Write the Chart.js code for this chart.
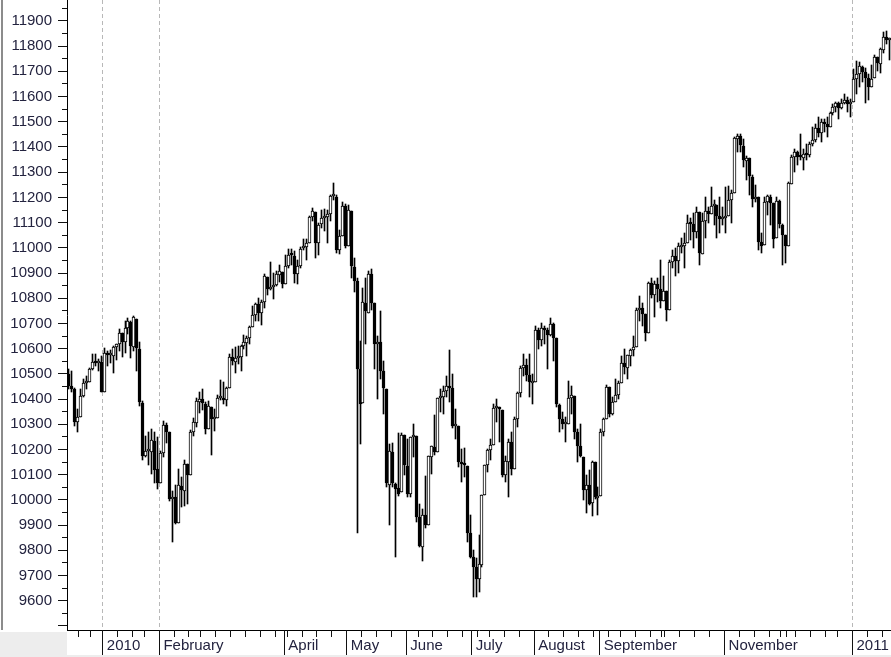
<!DOCTYPE html>
<html>
<head>
<meta charset="utf-8">
<script src="https://cdn.jsdelivr.net/npm/chart.js@4/dist/chart.umd.min.js"></script>
<style>
  html, body { margin: 0; padding: 0; background: #fff; }
  #wrap { width: 891px; height: 657px; position: relative; }
</style>
</head>
<body>
<div id="wrap"><canvas id="myChart"></canvas></div>
<script>
// Trading days shown, month by month (Dec 2009 .. Jan 2011)
var months = ['2009-12', '2010-01', '2010-02', '2010-03', '2010-04', '2010-05', '2010-06',
  '2010-07', '2010-08', '2010-09', '2010-10', '2010-11', '2010-12', '2011-01'];
var monthDays = [
  [15,16,17,18,21,22,23,24,28,29,30,31],
  [4,5,6,7,8,11,12,13,14,15,19,20,21,22,25,26,27,28,29],
  [1,2,3,4,5,8,9,10,11,12,16,17,18,19,22,23,24,25,26],
  [1,2,3,4,5,8,9,10,11,12,15,16,17,18,19,22,23,24,25,26,29,30,31],
  [1,5,6,7,8,9,12,13,14,15,16,19,20,21,22,23,26,27,28,29,30],
  [3,4,5,6,7,10,11,12,13,14,17,18,19,20,21,24,25,26,27,28],
  [1,2,3,4,7,8,9,10,11,14,15,16,17,18,21,22,23,24,25,28,29,30],
  [1,2,6,7,8,9,12,13,14,15,16,19,20,21,22,23,26,27,28,29,30],
  [2,3,4,5,6,9,10,11,12,13,16,17,18,19,20,23,24,25,26,27,30,31],
  [1,2,3,7,8,9,10,13,14,15,16,17,20,21,22,23,24,27,28,29,30],
  [1,4,5,6,7,8,11,12,13,14,15,18,19,20,21,22,25,26,27,28,29],
  [1,2,3,4,5,8,9,10,11,12,15,16,17,18,19,22,23,24,26,29,30],
  [1,2,3,6,7,8,9,10,13,14,15,16,17,20,21,22,23,27,28,29,30,31],
  [3,4,5,6,7,10,11,12,13,14,18,19,20]
];
// month names written under the axis ('' = no label)
var monthLabels = ['', '2010', 'February', '', 'April', 'May', 'June', 'July', 'August',
  'September', '', 'November', '', '2011'];
// months that get a dashed vertical line
var dashedMonths = ['2010-01', '2010-02', '2011-01'];
var yTickLabels = [9600, 9700, 9800, 9900, 10000, 10100, 10200, 10300, 10400, 10500, 10600,
  10700, 10800, 10900, 11000, 11100, 11200, 11300, 11400, 11500, 11600, 11700, 11800, 11900];

var opens = [
  10501,10452,10441,10309,10328,10414,10464,10467,10520,10547,10545,10548,
  10430,10584,10573,10571,10606,10620,10663,10628,10680,10706,10608,10719,10600,10385,10175,10194,10190,10233,10122,
  10068,10186,10296,10270,10002,10012,9910,10056,10036,10142,10100,10270,10306,10390,10401,10381,10282,10369,10321,
  10326,10404,10406,10397,10445,10567,10548,10564,10565,10612,10624,10642,10686,10732,10779,10740,10786,10885,10836,10843,10851,10894,10906,
  10857,10927,10972,10969,10897,10928,10998,11004,11018,11123,11143,11018,11093,11117,11123,11133,11204,11203,10990,11046,11166,
  11009,11148,10923,10868,10519,10386,10780,10742,10896,10780,10620,10625,10510,10440,10060,10191,10062,10046,10030,10258,
  10136,10025,10249,10255,9932,9813,9940,9900,10170,10211,10192,10403,10409,10434,10450,10442,10293,10295,10152,10144,10136,9870,
  9773,9732,9686,9743,10019,10138,10198,10218,10363,10366,10357,10097,10150,10230,10122,10321,10424,10525,10536,10497,10465,
  10468,10674,10636,10679,10673,10653,10698,10642,10377,10319,10302,10303,10406,10414,10270,10214,10170,10040,10060,9987,10150,10009,
  10016,10270,10321,10446,10340,10388,10415,10464,10544,10525,10572,10595,10608,10753,10760,10738,10664,10859,10811,10857,10836,
  10789,10828,10752,10944,10967,10947,11005,11009,11021,11096,11095,11062,11141,10977,11107,11146,11133,11164,11168,11126,11113,
  11120,11126,11188,11216,11433,11444,11405,11346,11357,11282,11192,11200,11022,11010,11181,11203,11178,11037,11186,11092,11051,
  11007,11255,11361,11381,11362,11358,11372,11370,11411,11428,11475,11457,11499,11492,11479,11533,11559,11573,11555,11575,11585,11569,
  11577,11670,11688,11717,11697,11673,11638,11673,11755,11731,11784,11836,11823
];
var highs = [
  10520,10510,10445,10360,10440,10480,10490,10525,10580,10580,10560,10570,
  10604,10590,10595,10612,10619,10676,10663,10709,10723,10710,10729,10719,10628,10391,10255,10270,10281,10268,10250,
  10194,10314,10305,10270,10037,10060,10124,10090,10159,10142,10276,10325,10405,10430,10440,10390,10394,10370,10360,
  10417,10475,10466,10446,10580,10600,10605,10612,10615,10655,10650,10690,10768,10780,10799,10794,10895,10885,10945,10900,10910,10930,10906,
  10971,10995,10996,10988,10953,11005,11034,11036,11128,11158,11143,11100,11150,11155,11150,11210,11258,11210,11070,11182,11175,
  11170,11148,10960,10880,10630,10840,10880,10910,10915,10780,10650,10750,10550,10440,10220,10225,10068,10265,10265,10258,
  10240,10250,10300,10255,9983,9964,10094,10173,10215,10337,10405,10440,10450,10490,10594,10500,10360,10295,10200,10205,10136,9940,
  9800,9770,9860,10020,10140,10200,10240,10380,10400,10370,10357,10175,10240,10270,10330,10430,10530,10580,10560,10580,10500,
  10690,10680,10700,10690,10680,10720,10700,10642,10380,10350,10330,10470,10450,10414,10280,10300,10170,10100,10120,10155,10150,10050,
  10280,10325,10455,10446,10410,10480,10470,10570,10600,10575,10600,10650,10760,10810,10780,10738,10865,10880,10870,10880,10950,
  10890,10830,10950,10990,11000,11020,11040,11060,11130,11120,11140,11160,11141,11140,11200,11160,11240,11190,11168,11200,11160,
  11240,11245,11230,11440,11452,11450,11430,11365,11357,11290,11250,11200,11060,11200,11210,11210,11178,11200,11190,11095,11051,
  11260,11370,11390,11385,11450,11390,11410,11420,11480,11490,11520,11510,11510,11520,11540,11570,11580,11580,11590,11610,11600,11590,
  11711,11742,11736,11723,11712,11689,11727,11764,11756,11794,11856,11861,11833
];
var lows = [
  10440,10430,10295,10270,10328,10410,10440,10467,10515,10530,10510,10428,
  10430,10530,10545,10505,10554,10591,10568,10584,10658,10561,10591,10511,10373,10157,10172,10140,10104,10068,10044,
  10068,10172,10227,9997,9835,9903,9910,9973,9975,9985,10100,10253,10290,10344,10356,10263,10281,10180,10272,
  10326,10396,10380,10373,10445,10536,10505,10540,10510,10600,10572,10620,10686,10710,10709,10695,10761,10812,10833,10795,10850,10866,10841,
  10857,10918,10930,10862,10855,10920,10990,10950,11018,11108,10960,10970,11080,11065,11020,11108,11190,10981,10975,11046,11000,
  11009,10880,10825,9870,10220,10386,10620,10742,10755,10520,10400,10480,10340,10050,9900,10050,9774,10015,10030,10100,
  10010,10012,10172,9914,9815,9757,9890,9900,10102,10180,10192,10350,10340,10410,10390,10285,10240,10130,10070,10090,9835,9770,
  9615,9614,9635,9735,10019,10110,10160,10218,10310,10230,10090,10070,10010,10100,10122,10290,10410,10490,10470,10410,10380,
  10468,10600,10610,10620,10520,10650,10550,10370,10270,10280,10230,10303,10340,10240,10150,10170,10000,9950,9980,9936,10005,9941,
  10016,10255,10321,10330,10335,10388,10400,10464,10500,10480,10530,10570,10608,10710,10690,10630,10664,10800,10725,10785,10760,
  10789,10710,10752,10920,10890,10900,10980,10920,11021,11030,11000,11040,10930,10977,11040,11100,11133,11090,11040,11060,11090,
  11060,11126,11100,11216,11380,11380,11320,11270,11210,11160,11180,10990,10980,11010,11130,11090,11000,11037,11080,10930,10940,
  11007,11255,11300,11330,11350,11310,11350,11360,11405,11420,11440,11420,11460,11440,11479,11525,11540,11510,11550,11570,11540,11520,
  11577,11610,11639,11659,11576,11586,11638,11673,11702,11692,11772,11807,11745
];
var closes = [
  10452,10441,10309,10328,10414,10464,10467,10520,10547,10545,10548,10428,
  10584,10573,10574,10606,10619,10664,10628,10680,10711,10610,10726,10604,10389,10173,10196,10194,10236,10120,10067,
  10185,10296,10270,10002,10013,9908,10058,10038,10144,10099,10268,10309,10392,10402,10383,10282,10374,10321,10325,
  10404,10405,10396,10444,10567,10552,10564,10567,10611,10625,10642,10685,10733,10779,10741,10785,10888,10836,10841,10850,10895,10907,10857,
  10927,10973,10970,10898,10928,10997,11005,11019,11123,11145,11019,11092,11117,11125,11134,11204,11205,10991,11045,11167,11008,
  11151,10926,10868,10520,10380,10785,10748,10896,10782,10620,10625,10510,10444,10068,10193,10067,10043,10025,10259,10137,
  10025,10250,10256,9931,9816,9940,9899,10173,10212,10190,10405,10410,10434,10450,10442,10294,10298,10152,10144,10138,9870,9774,
  9732,9686,9744,10018,10139,10198,10216,10364,10367,10359,10098,10154,10230,10121,10322,10424,10525,10537,10497,10467,10466,
  10674,10636,10680,10675,10654,10698,10644,10379,10320,10303,10302,10405,10415,10271,10213,10174,10040,10060,9985,10150,10010,10015,
  10270,10320,10448,10341,10388,10416,10463,10545,10527,10573,10595,10608,10753,10762,10739,10662,10860,10812,10858,10835,10788,
  10829,10752,10945,10968,10948,11006,11010,11021,11097,11095,11063,11143,10978,11108,11147,11133,11165,11170,11127,11114,11118,
  11125,11189,11216,11434,11445,11407,11347,11358,11283,11193,11202,11023,11008,11182,11204,11179,11036,11187,11093,11052,11006,
  11256,11362,11382,11362,11359,11372,11370,11411,11429,11476,11457,11499,11492,11478,11534,11560,11574,11555,11575,11585,11570,11578,
  11671,11691,11722,11697,11675,11637,11671,11755,11732,11787,11837,11825,11823
];

// build the list of dates and where each month starts
var dates = [];
var monthStart = [];
months.forEach(function (m, mi) {
  monthStart.push(dates.length);
  monthDays[mi].forEach(function (d) {
    dates.push(m + '-' + (d < 10 ? '0' + d : d));
  });
});

// first trading day of each week gets a small tick
function dayNumber(s) {
  var p = s.split('-');
  return Date.UTC(+p[0], +p[1] - 1, +p[2]) / 86400000;
}
var weekStarts = [];
for (var i = 1; i < dates.length; i++) {
  var a = dayNumber(dates[i - 1]), b = dayNumber(dates[i]);
  if ((b + 4) % 7 <= (a + 4) % 7 || b - a > 6) weekStarts.push(i);
}

var labelAt = {};
var labelSlots = [];
monthLabels.forEach(function (t, mi) {
  if (t) { labelAt[monthStart[mi]] = ' ' + t; labelSlots.push(monthStart[mi]); }
});

var bodies = [], wicks = [];
for (var j = 0; j < dates.length; j++) {
  bodies.push({ x: j + 0.5, y: [Math.min(opens[j], closes[j]), Math.max(opens[j], closes[j])] });
  wicks.push({ x: j + 0.5, y: [lows[j], highs[j]] });
}

var textColor = '#23233f';
var axisFont = { family: "'Liberation Sans', Arial, sans-serif", size: 15 };

// snap the candles to whole pixels so they stay crisp like the original
var snapBars = {
  id: 'snapBars',
  afterDatasetsUpdate: function (chart) {
    chart.data.datasets.forEach(function (ds, di) {
      var meta = chart.getDatasetMeta(di);
      meta.data.forEach(function (el) {
        if (di === 0) {
          el.x = Math.floor(el.x) + 0.5;
          el.width = 3;
          el.y = Math.round(el.y);
          el.base = Math.round(el.base);
        } else {
          el.x = Math.floor(el.x) + 0.5;
          el.width = 1;
          el.y = Math.round(el.y);
          el.base = Math.round(el.base);
        }
      });
    });
  }
};

var frame = {
  id: 'frame',
  beforeDraw: function (chart) {
    var ctx = chart.ctx, area = chart.chartArea;
    ctx.save();
    ctx.fillStyle = '#ffffff';
    ctx.fillRect(0, 0, chart.width, chart.height);
    ctx.fillStyle = '#ededed';
    ctx.fillRect(0, area.bottom + 2, area.left, chart.height - area.bottom);
    ctx.fillRect(0, chart.height - 2, chart.width, 2);
    ctx.fillStyle = '#8c8c8c';
    ctx.fillRect(1, 0, 2, area.bottom);
    ctx.restore();
  },
  beforeDatasetsDraw: function (chart) {
    var ctx = chart.ctx, area = chart.chartArea, x = chart.scales.x;
    ctx.save();
    ctx.strokeStyle = '#b8b8b8';
    ctx.lineWidth = 1;
    ctx.setLineDash([4, 3]);
    dashedMonths.forEach(function (m) {
      var px = Math.floor(x.getPixelForValue(monthStart[months.indexOf(m)])) + 0.5;
      ctx.beginPath();
      ctx.moveTo(px, area.top);
      ctx.lineTo(px, area.bottom);
      ctx.stroke();
    });
    ctx.restore();
  },
  afterDraw: function (chart) {
    var ctx = chart.ctx, area = chart.chartArea, x = chart.scales.x, y = chart.scales.y;
    ctx.save();
    ctx.fillStyle = '#111111';
    // y ticks: long at hundreds, short at fifties
    for (var v = 9500; v <= 11950; v += 50) {
      var py = Math.floor(y.getPixelForValue(v));
      var len = v % 100 === 0 ? 9 : 5;
      ctx.fillRect(area.left - len, py, len, 1);
    }
    // x ticks: short at weeks and months, long at labelled months
    weekStarts.concat(monthStart).forEach(function (s) {
      if (s === 0) return;
      var px = Math.floor(x.getPixelForValue(s));
      ctx.fillRect(px, area.bottom, 1, 7);
    });
    labelSlots.forEach(function (s) {
      var px = Math.floor(x.getPixelForValue(s));
      ctx.fillRect(px, area.bottom, 1, 25);
    });
    ctx.restore();
  }
};

new Chart(document.getElementById('myChart').getContext('2d'), {
  type: 'bar',
  data: {
    datasets: [{
      label: 'body',
      data: bodies,
      order: 0,
      grouped: false,
      barPercentage: 1,
      categoryPercentage: 1,
      maxBarThickness: 3,
      minBarLength: 2,
      borderSkipped: false,
      borderWidth: 1,
      borderColor: '#000000',
      backgroundColor: function (c) {
        return closes[c.dataIndex] >= opens[c.dataIndex] ? '#ffffff' : '#000000';
      }
    }, {
      label: 'range',
      data: wicks,
      order: 1,
      grouped: false,
      barPercentage: 1,
      categoryPercentage: 1,
      maxBarThickness: 1,
      borderWidth: 0,
      backgroundColor: '#000000'
    }]
  },
  options: {
    responsive: true,
    maintainAspectRatio: false,
    animation: false,
    layout: { padding: 0 },
    plugins: { legend: { display: false }, tooltip: { enabled: false } },
    scales: {
      x: {
        type: 'linear',
        min: 0,
        max: dates.length,
        offset: false,
        grid: { display: false, drawTicks: false },
        border: { display: true, color: '#000000', width: 1 },
        afterBuildTicks: function (s) {
          s.ticks = labelSlots.map(function (v) { return { value: v }; });
        },
        afterFit: function (s) {
          s.height = 27;
          s.paddingLeft = 0;
          s.paddingRight = 0;
        },
        ticks: {
          autoSkip: false,
          maxRotation: 0,
          minRotation: 0,
          align: 'start',
          labelOffset: 0,
          padding: 7,
          color: textColor,
          font: axisFont,
          callback: function (v) { return labelAt[v] || ''; }
        }
      },
      y: {
        min: 9484,
        max: 11983,
        grid: { display: false, drawTicks: false },
        border: { display: true, color: '#000000', width: 1 },
        afterBuildTicks: function (s) {
          s.ticks = yTickLabels.map(function (v) { return { value: v }; });
        },
        afterFit: function (s) {
          s.width = 67;
          s.paddingTop = 0;
          s.paddingBottom = 0;
        },
        ticks: {
          padding: 15,
          color: textColor,
          font: axisFont,
          callback: function (v) { return String(v); }
        }
      }
    }
  },
  plugins: [snapBars, frame]
});
</script>
</body>
</html>
